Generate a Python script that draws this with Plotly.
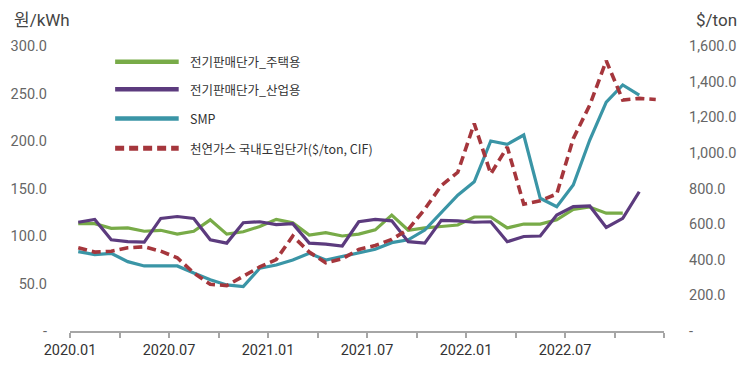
import plotly.graph_objects as go
from plotly.subplots import make_subplots

months = [f"{y}.{m:02d}" for y in (2020, 2021, 2022) for m in range(1, 13)]

residential = [113, 113, 108, 108.5, 105, 106, 102, 105, 117, 102, 104.5, 110,
               117.5, 114, 101, 103.5, 100, 102, 106.5, 122, 106, 108.5, 110, 111.6,
               120, 120, 108.5, 112.6, 112.6, 117, 128, 130.5, 124, 124]
industrial = [114.5, 117.5, 96, 94, 93.5, 118.5, 120.5, 118.5, 96, 92.5, 114, 115,
              112, 113, 92.5, 91.5, 89.5, 115, 117.5, 116, 94, 92.5, 116.5, 116,
              114.5, 115, 94, 99.5, 100, 122, 131, 131.6, 109, 118.6, 146.6]
smp = [83.5, 80.5, 81.8, 73, 68.5, 68.5, 68.5, 61, 54, 48.5, 46.7, 66,
       69.5, 74.7, 81.8, 74.7, 78.2, 81.8, 86, 93, 96, 106.3, 124.5, 143,
       157, 200, 196.5, 206.3, 139.7, 130.8, 153.7, 201, 241, 259, 248.4]
lng = [467, 443, 448, 467, 473, 448, 411, 326, 262, 255, 307, 360,
       401, 533, 443, 383, 405, 458, 480, 514, 571, 684, 816, 891,
       1165, 882, 1033, 712, 731, 769, 1080, 1268, 1517, 1297, 1306, 1300]

names = ["전기판매단가_주택용", "전기판매단가_산업용", "SMP", "천연가스 국내도입단가($/ton, CIF)"]
colors = ["#78AB48", "#5C3B7E", "#3A95A6", "#A5363C"]

left_vals = [0, 50, 100, 150, 200, 250, 300]
left_text = ["-", "50.0", "100.0", "150.0", "200.0", "250.0", "300.0"]
right_vals = [0, 200, 400, 600, 800, 1000, 1200, 1400, 1600]
right_text = ["-", "200.0", "400.0", "600.0", "800.0", "1,000.0", "1,200.0", "1,400.0", "1,600.0"]

idx = list(range(len(months)))
x_tick_vals = [i - 0.5 for i in range(0, len(months) + 1, 3)]
x_tick_text = [months[i] if (i % 6 == 0 and i < len(months)) else "" for i in range(0, len(months) + 1, 3)]

FONT = "Roboto, Noto Sans CJK KR, sans-serif"
KFONT = "Noto Sans CJK KR, sans-serif"

fig = make_subplots(specs=[[{"secondary_y": True}]])

fig.add_trace(go.Scatter(x=idx[:len(residential)], y=residential, mode="lines", name=names[0],
                         line=dict(color=colors[0], width=3.2), showlegend=False), secondary_y=False)
fig.add_trace(go.Scatter(x=idx[:len(smp)], y=smp, mode="lines", name=names[2],
                         line=dict(color=colors[2], width=3.2), showlegend=False), secondary_y=False)
fig.add_trace(go.Scatter(x=idx[:len(industrial)], y=industrial, mode="lines", name=names[1],
                         line=dict(color=colors[1], width=3.2), showlegend=False), secondary_y=False)
fig.add_trace(go.Scatter(x=idx[:len(lng)], y=lng, mode="lines", name=names[3],
                         line=dict(color=colors[3], width=3.6, dash="9px,5px"), showlegend=False),
              secondary_y=True)

# manual legend
leg_y = [0.945, 0.848, 0.746, 0.641]
for nm, col, yy, dash in zip(names, colors, leg_y, [None, None, None, "9px,5px"]):
    fig.add_shape(type="line", xref="paper", yref="paper", x0=0.076, x1=0.183, y0=yy, y1=yy,
                  line=dict(color=col, width=4.5 if dash is None else 5, dash=dash or "solid"))
    fig.add_annotation(xref="paper", yref="paper", x=0.199, y=yy, text=nm, showarrow=False,
                       xanchor="left", yanchor="middle",
                       font=dict(family=KFONT, size=12.5, color="#333333"))

fig.add_annotation(xref="paper", yref="paper", x=-0.098, y=1.09, text="원/kWh", showarrow=False,
                   xanchor="left", yanchor="middle", font=dict(family=FONT, size=17, color="#444444"))
fig.add_annotation(xref="paper", yref="paper", x=1.05, y=1.09, text="$/ton", showarrow=False,
                   xanchor="left", yanchor="middle", font=dict(family=FONT, size=17, color="#444444"))

fig.update_xaxes(range=[-0.5, len(months) - 0.5], domain=[0, 1], tickmode="array", tickvals=x_tick_vals,
                 ticktext=x_tick_text, showgrid=False, zeroline=False, showline=True,
                 linecolor="#A6A6A6", linewidth=1.5, ticks="outside", ticklen=5, tickcolor="#A6A6A6",
                 tickwidth=1.5, automargin=False,
                 tickfont=dict(family=FONT, size=14.5, color="#333333"))
fig.update_yaxes(range=[0, 300], tickmode="array", tickvals=left_vals, ticktext=left_text,
                 showgrid=False, zeroline=False, showline=False, ticks="",
                 ticklabelstandoff=22, automargin=False,
                 tickfont=dict(family=FONT, size=14.5, color="#666666"), secondary_y=False)
fig.update_yaxes(range=[0, 1600], tickmode="array", tickvals=right_vals, ticktext=right_text,
                 showgrid=False, zeroline=False, showline=False, ticks="",
                 ticklabelstandoff=24, automargin=False,
                 tickfont=dict(family=FONT, size=14.5, color="#666666"), secondary_y=True)

# page body has an 8px margin; size the figure so it fills the 752x365 window
fig.update_layout(width=744, height=357, margin=dict(l=62, r=88, t=38, b=34, autoexpand=False),
                  paper_bgcolor="white", plot_bgcolor="white", showlegend=False)

fig.write_html("out.html")
